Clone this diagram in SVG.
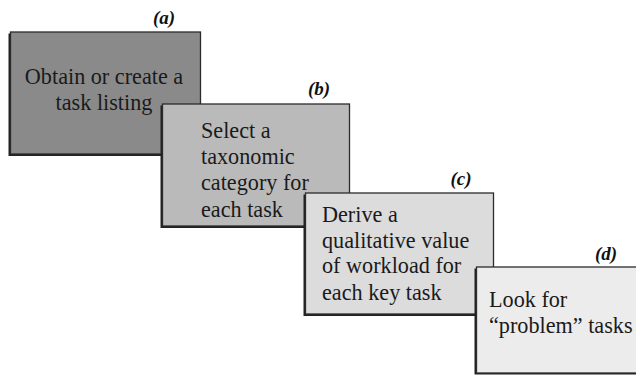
<svg xmlns="http://www.w3.org/2000/svg" width="636" height="376" viewBox="0 0 636 376">
<style>
.box{stroke:#2b2b2b;stroke-width:1.3}
.sh{fill:#222}
.t{font-family:"Liberation Serif","Times New Roman",serif;font-size:22.2px;fill:#1a1a1a}
.lbl{font-family:"Liberation Serif","Times New Roman",serif;font-size:19px;font-weight:bold;font-style:italic;fill:#111}
</style>
<rect width="636" height="376" fill="#fff"/>
<g id="node-a">
<rect class="sh" x="8.5" y="33.5" width="190" height="122.5"/>
<rect class="box" x="10.5" y="32" width="190" height="122" fill="#8a8a8a"/>
<text class="lbl" x="164" y="24" text-anchor="middle">(a)</text>
<text class="t" x="104" y="84" text-anchor="middle">Obtain or create a</text>
<text class="t" x="104" y="110" text-anchor="middle">task listing</text>
</g>
<g id="node-b">
<rect class="sh" x="160.5" y="105.5" width="188" height="122.5"/>
<rect class="box" x="162.5" y="104" width="187" height="122" fill="#bababa"/>
<text class="lbl" x="319" y="95" text-anchor="middle">(b)</text>
<text class="t" x="201" y="138">Select a</text>
<text class="t" x="201" y="164">taxonomic</text>
<text class="t" x="201" y="190">category for</text>
<text class="t" x="201" y="217">each task</text>
</g>
<g id="node-c">
<rect class="sh" x="303.5" y="194.5" width="189" height="121.5"/>
<rect class="box" x="305.5" y="193" width="188" height="121" fill="#dcdcdc"/>
<text class="lbl" x="461" y="185" text-anchor="middle">(c)</text>
<text class="t" x="322" y="222">Derive a</text>
<text class="t" x="322" y="248">qualitative value</text>
<text class="t" x="322" y="273">of workload for</text>
<text class="t" x="322" y="300">each key task</text>
</g>
<g id="node-d">
<rect class="sh" x="474.5" y="268.5" width="180" height="106"/>
<rect class="box" x="476.5" y="267" width="180" height="106" fill="#ececec"/>
<text class="lbl" x="606" y="260" text-anchor="middle">(d)</text>
<text class="t" x="489" y="307">Look for</text>
<text class="t" x="489" y="333">“problem” tasks</text>
</g>
<g id="connectors"></g>
</svg>
